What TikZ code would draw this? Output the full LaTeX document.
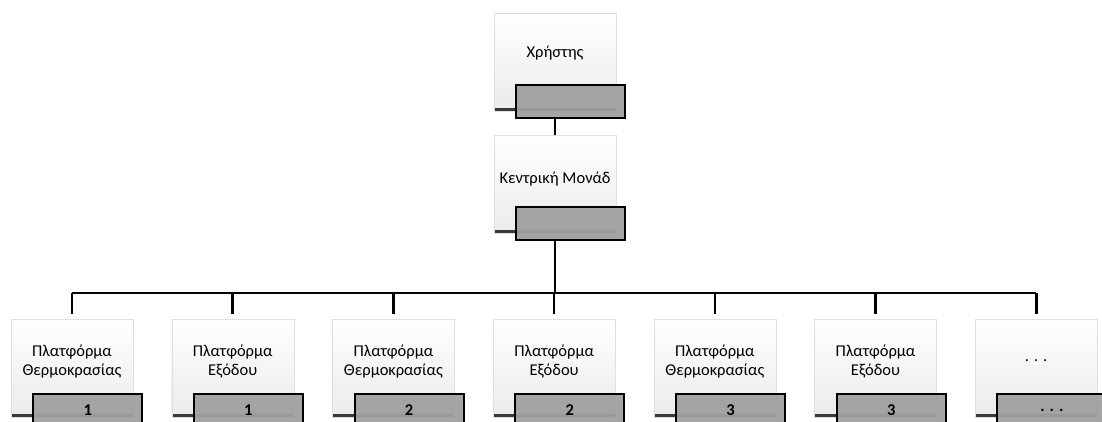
\documentclass[tikz,border=0pt]{standalone}
\usepackage{fontspec}
\setmainfont{Carlito}
\usepackage{tikz}
\usetikzlibrary{shapes}
\tikzset{%
  card/.style  = {rectangle, draw=gray!25, thin, top color=white, middle color=white,
    bottom color=gray!16, minimum width=122pt, minimum height=98pt, align=center,
    font=\fontsize{16.5}{19}\selectfont, text depth=16pt,
    path picture={\fill[gray!45!black] (path picture bounding box.south west)
      rectangle ([yshift=3.5pt]path picture bounding box.south east);}},
  tag/.style   = {rectangle, draw=black, line width=2pt, fill=gray!75, fill opacity=0.94,
    text opacity=1, minimum width=109pt, minimum height=33pt,
    font=\fontsize{16.5}{19}\selectfont\bfseries}, % grey label box
  link/.style  = {draw, line width=2.6pt},
  bus/.style   = {coordinate}
}

\begin{document}
\begin{tikzpicture}[x=1pt, y=-1pt, node distance=160.7pt]
\useasboundingbox (0,0) rectangle (1102,421);
\clip (0,0) rectangle (1102,421);
\draw
	node at(555,62)[card, text depth=21pt, name=User]{Χρήστης}
	node at(555,184)[card, text depth=12pt, name=Hub]{Κεντρική Μονάδ};
\draw
	node at(72,368.5)[card, name=Plat1]{Πλατφόρμα\\Θερμοκρασίας}
	node [card, name=Plat2, right of=Plat1]{Πλατφόρμα\\Εξόδου}
	node [card, name=Plat3, right of=Plat2]{Πλατφόρμα\\Θερμοκρασίας}
	node [card, name=Plat4, right of=Plat3]{Πλατφόρμα\\Εξόδου}
	node [card, name=Plat5, right of=Plat4]{Πλατφόρμα\\Θερμοκρασίας}
	node [card, name=Plat6, right of=Plat5]{Πλατφόρμα\\Εξόδου}
	node [card, name=Plat7, right of=Plat6]{. . .};
% grey tags on the cards
\draw
	node [tag, anchor=north east, xshift=10pt, yshift=27pt, name=UserTag] at (User.south east){}
	node [tag, anchor=north east, xshift=10pt, yshift=27pt, name=HubTag] at (Hub.south east){}
	node [tag, anchor=north east, xshift=10pt, yshift=25pt, name=Tag1] at (Plat1.south east){1}
	node [tag, anchor=north east, xshift=10pt, yshift=25pt, name=Tag2] at (Plat2.south east){1}
	node [tag, anchor=north east, xshift=10pt, yshift=25pt, name=Tag3] at (Plat3.south east){2}
	node [tag, anchor=north east, xshift=10pt, yshift=25pt, name=Tag4] at (Plat4.south east){2}
	node [tag, anchor=north east, xshift=10pt, yshift=25pt, name=Tag5] at (Plat5.south east){3}
	node [tag, anchor=north east, xshift=10pt, yshift=25pt, name=Tag6] at (Plat6.south east){3}
	node [tag, anchor=north east, xshift=10pt, yshift=25pt, name=Tag7] at (Plat7.south east){. . .};
\coordinate[bus] (Bus) at (555,293);
	\draw[link] (User |- UserTag.south) -- (Hub.north);
	\draw[link] (Hub |- HubTag.south) -- (Hub |- Bus);
	\draw[link] (Bus -| Plat1) -- (Bus -| Plat7);
	\draw[link, shorten >=5pt] (Plat1 |- Bus) -- (Plat1.north);
	\draw[link, shorten >=5pt] (Plat2 |- Bus) -- (Plat2.north);
	\draw[link, shorten >=5pt] (Plat3 |- Bus) -- (Plat3.north);
	\draw[link, shorten >=5pt] (Plat4 |- Bus) -- (Plat4.north);
	\draw[link, shorten >=5pt] (Plat5 |- Bus) -- (Plat5.north);
	\draw[link, shorten >=5pt] (Plat6 |- Bus) -- (Plat6.north);
	\draw[link, shorten >=5pt] (Plat7 |- Bus) -- (Plat7.north);
\end{tikzpicture}
\end{document}
